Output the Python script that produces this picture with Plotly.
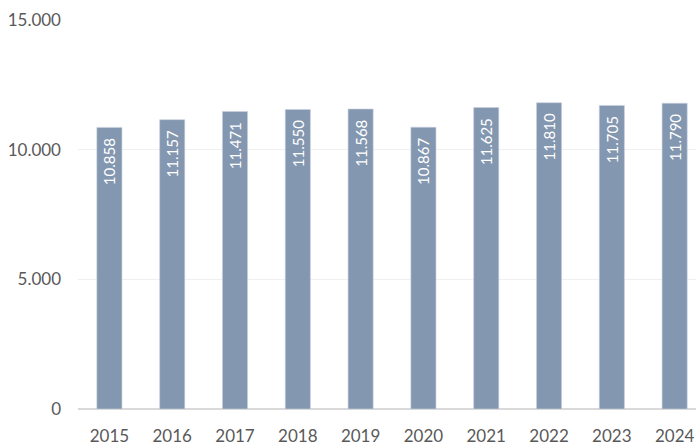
import plotly.graph_objects as go

years = ["2015", "2016", "2017", "2018", "2019", "2020", "2021", "2022", "2023", "2024"]
values = [10858, 11157, 11471, 11550, 11568, 10867, 11625, 11810, 11705, 11790]
y_ticks = [0, 5000, 10000, 15000]
y_tick_labels = ["0", "5.000", "10.000", "15.000"]

fig = go.Figure(go.Bar(
    x=years, y=values,
    width=0.4,
    marker=dict(color="#8497B0", line=dict(color="#C9D2DE", width=0.6)),
    texttemplate="%{y:,.0f}\u00a0\u00a0",
    textposition="inside",
    insidetextanchor="end",
    textangle=-90,
    textfont=dict(color="white", size=15, family="Lato"),
))

fig.update_layout(
    width=696, height=446,
    margin=dict(l=78, r=0, t=20, b=37),
    paper_bgcolor="white", plot_bgcolor="white",
    separators=",.",
    font=dict(family="Lato", color="#595959"),
    showlegend=False,
)
fig.update_xaxes(
    type="category", range=[-0.5, 9.34],
    tickfont=dict(size=17, color="#595959"),
    ticks="", showgrid=False, showline=False,
    ticklabelstandoff=15,
)
fig.update_yaxes(
    range=[0, 15000],
    tickvals=y_ticks, ticktext=y_tick_labels,
    tickfont=dict(size=17, color="#595959"),
    gridcolor="#F0F0F0", gridwidth=1,
    zeroline=True, zerolinecolor="#D9D9D9", zerolinewidth=1.5,
    ticklabelstandoff=16,
)

fig.write_html(
    "out.html",
    config={"displayModeBar": False},
    post_script="document.body.style.margin='0';document.body.style.overflow='hidden';",
)
